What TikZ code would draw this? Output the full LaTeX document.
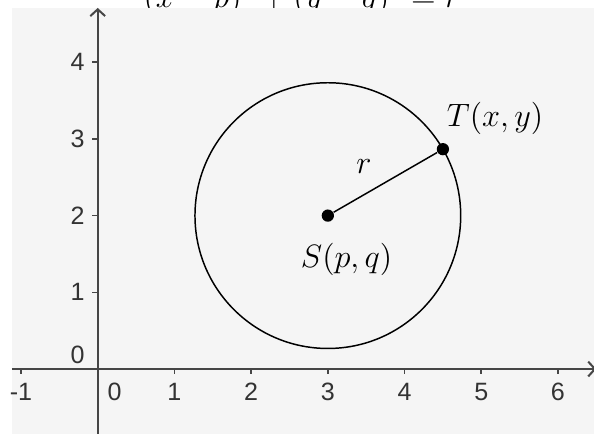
\documentclass[tikz,border=0pt]{standalone}
\usepackage{fontspec}
\newfontfamily\axisfont{Liberation Sans}
\usetikzlibrary{arrows.meta}
\definecolor{panel}{RGB}{245,245,245}
\definecolor{axisgray}{RGB}{70,70,70}
\begin{document}
\begin{tikzpicture}[
  axis/.style={draw=axisgray, line width=0.75pt},
  tickmark/.style={draw=axisgray, line width=0.6pt},
  ticklabel/.style={font=\axisfont\fontsize{9.3}{11}\selectfont, text=black!80, inner sep=0pt},
  mathlabel/.style={font=\fontsize{12.5}{15}\selectfont, inner sep=0pt},
  dot/.style={circle, fill=black, inner sep=0pt, minimum size=0.16cm},
  curve/.style={draw=black, line width=0.55pt},
  barb/.style={-{Straight Barb[length=2.5pt,width=5.5pt]}}
]
\useasboundingbox (-1.274,-0.847) rectangle (6.470,4.811);
\clip (-1.274,-0.847) rectangle (6.470,4.811);
% formula, mostly hidden behind the panel
\node[anchor=base west, inner sep=0pt, font=\fontsize{12}{14}\selectfont] (eq) at (0.59,4.708) {$(x-p)^2+(y-q)^2=r^2$};
% panel
\fill[panel] (-1.118,-0.847) rectangle (6.470,4.707);
% axes
\coordinate (xl) at (-1.118,0);
\coordinate (xr) at (6.50,0);
\coordinate (yb) at (0,-0.847);
\coordinate (yt) at (0,4.707);
\draw[axis, barb] (xl) -- (xr);
\draw[axis, barb] (yb) -- (yt);
% ticks
\foreach \k in {-1,1,2,3,4,5,6} {
  \draw[tickmark] (\k,0) -- (\k,-0.07);
  \node[ticklabel, anchor=base] (xt\k) at (\k,-0.404) {\k};
}
\node[ticklabel, anchor=base] (xt0) at (0.22,-0.404) {0};
\foreach \k in {1,2,3,4} {
  \draw[tickmark] (0,\k) -- (-0.07,\k);
  \node[ticklabel, anchor=east] (yt\k) at (-0.165,\k) {\k};
}
\node[ticklabel, anchor=east] (yt0) at (-0.165,0.18) {0};
% circle
\draw[curve] (3,2) circle (1.7321);
% points
\node[dot] (S) at (3,2) {};
\node[dot] (T) at (4.5,2.866) {};
\draw[curve] (S) -- (T);
% labels
\node[mathlabel, anchor=base] (Slab) at (3.244,1.330) {$S(p,q)$};
\node[mathlabel, anchor=base] (Tlab) at (5.180,3.168) {$T(x,y)$};
\node[mathlabel, anchor=base] (rlab) at (3.472,2.555) {$r$};
\end{tikzpicture}
\end{document}
